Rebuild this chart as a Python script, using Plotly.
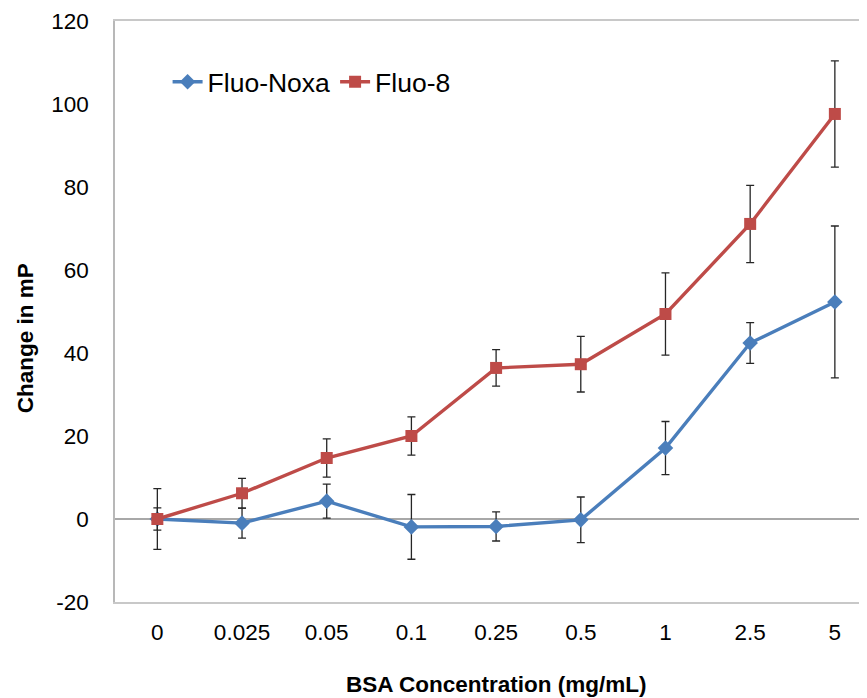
import plotly.graph_objects as go

categories = ["0", "0.025", "0.05", "0.1", "0.25", "0.5", "1", "2.5", "5"]
noxa_values = [0.0, -1.0, 4.3, -1.9, -1.8, -0.2, 17.1, 42.4, 52.3]
noxa_errors = [7.3, 3.6, 4.1, 7.8, 3.5, 5.5, 6.4, 4.9, 18.3]
fluo8_values = [0.0, 6.2, 14.7, 20.0, 36.4, 37.3, 49.4, 71.1, 97.6]
fluo8_errors = [2.7, 3.6, 4.6, 4.6, 4.4, 6.7, 9.9, 9.3, 12.8]
y_ticks = [-20, 0, 20, 40, 60, 80, 100, 120]
y_tick_labels = ["-20", "0", "20", "40", "60", "80", "100", "120"]

FONT = "Liberation Sans, Arial, sans-serif"
BLUE = "#4A7EBB"
RED = "#BE4B48"
ERR = "#262626"

fig = go.Figure()
fig.add_trace(go.Scatter(
    x=categories, y=noxa_values, name="Fluo-Noxa", mode="lines+markers",
    line=dict(color=BLUE, width=3.4),
    marker=dict(symbol="diamond", size=12, color=BLUE),
    error_y=dict(type="data", array=noxa_errors, visible=True,
                 color=ERR, thickness=1.3, width=4),
))
fig.add_trace(go.Scatter(
    x=categories, y=fluo8_values, name="Fluo-8", mode="lines+markers",
    line=dict(color=RED, width=3.4),
    marker=dict(symbol="square", size=12, color=RED),
    error_y=dict(type="data", array=fluo8_errors, visible=True,
                 color=ERR, thickness=1.3, width=4),
))

fig.update_layout(
    width=867, height=690,
    margin=dict(l=107, r=0, t=13, b=96),
    paper_bgcolor="white", plot_bgcolor="white",
    font=dict(family=FONT, size=22, color="black"),
    showlegend=True,
    legend=dict(orientation="h", x=0.0692, y=0.895, xanchor="left", yanchor="middle",
                font=dict(size=26.5, family=FONT), bgcolor="rgba(0,0,0,0)",
                itemwidth=30, tracegroupgap=0),
    xaxis=dict(type="category", categoryorder="array", categoryarray=categories,
               range=[-0.5, 8.474], showgrid=False, zeroline=False,
               showline=True, linecolor="#C8C8C8", linewidth=1.5, mirror=True,
               ticks="", ticklabelstandoff=9,
               tickfont=dict(size=22.5, family=FONT)),
    yaxis=dict(range=[-20, 120], tickvals=y_ticks, ticktext=y_tick_labels,
               showgrid=False,
               zeroline=True, zerolinecolor="#A8A8A8", zerolinewidth=1.8,
               showline=True, linecolor="#B8B8B8", linewidth=1.5,
               ticks="", ticklabelstandoff=20,
               tickfont=dict(size=22.5, family=FONT)),
    annotations=[
        dict(text="<b>Change in mP</b>", xref="paper", yref="paper",
             x=(25 - 115) / 760, y=0.454, xanchor="center", yanchor="middle",
             textangle=-90, showarrow=False, font=dict(size=22.5, family=FONT)),
        dict(text="<b>BSA Concentration (mg/mL)</b>", xref="paper", yref="paper",
             x=(496 - 115) / 760, y=(602 - 684) / 581, xanchor="center", yanchor="middle",
             showarrow=False, font=dict(size=22.5, family=FONT)),
    ],
)

fig.write_html("out.html")
